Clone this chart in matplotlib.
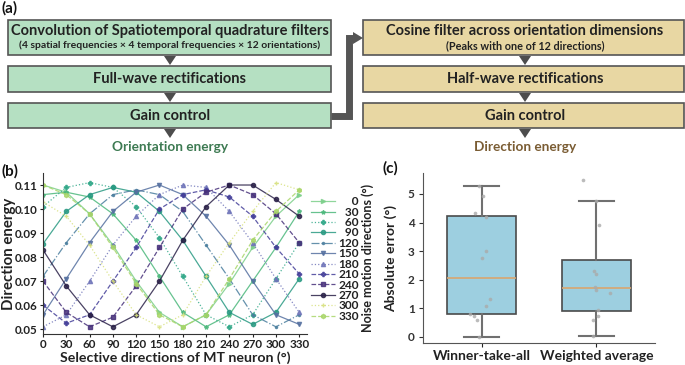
import numpy as np
import matplotlib
matplotlib.use("Agg")
import matplotlib.pyplot as plt
from matplotlib.patches import Rectangle, Polygon

plt.rcParams['font.family'] = ['Lato', 'DejaVu Sans']
plt.rcParams['font.weight'] = 'bold'

# ---------------- data ----------------
mt_dirs = [0, 30, 60, 90, 120, 150, 180, 210, 240, 270, 300, 330]
noise_dirs = [0, 30, 60, 90, 120, 150, 180, 210, 240, 270, 300, 330]
energy_0   = [0.110, 0.107, 0.098, 0.085, 0.070, 0.057, 0.051, 0.056, 0.069, 0.084, 0.097, 0.106]
energy_30  = [0.106, 0.107, 0.105, 0.098, 0.087, 0.072, 0.057, 0.051, 0.056, 0.070, 0.084, 0.099]
energy_60  = [0.101, 0.109, 0.111, 0.109, 0.101, 0.088, 0.072, 0.056, 0.051, 0.056, 0.071, 0.086]
energy_90  = [0.0855, 0.099, 0.106, 0.109, 0.107, 0.099, 0.087, 0.072, 0.057, 0.052, 0.057, 0.071]
energy_120 = [0.072, 0.086, 0.098, 0.106, 0.108, 0.106, 0.099, 0.085, 0.071, 0.056, 0.051, 0.056]
energy_150 = [0.056, 0.071, 0.086, 0.099, 0.107, 0.110, 0.106, 0.097, 0.085, 0.070, 0.056, 0.052]
energy_180 = [0.051, 0.056, 0.070, 0.085, 0.097, 0.106, 0.110, 0.109, 0.099, 0.086, 0.071, 0.057]
energy_210 = [0.060, 0.0525, 0.056, 0.070, 0.084, 0.100, 0.106, 0.108, 0.105, 0.097, 0.084, 0.073]
energy_240 = [0.070, 0.057, 0.051, 0.055, 0.068, 0.084, 0.100, 0.107, 0.110, 0.106, 0.098, 0.086]
energy_270 = [0.083, 0.068, 0.056, 0.051, 0.056, 0.070, 0.087, 0.101, 0.110, 0.110, 0.104, 0.097]
energy_300 = [0.103, 0.097, 0.085, 0.070, 0.056, 0.051, 0.056, 0.072, 0.086, 0.099, 0.111, 0.108]
energy_330 = [0.110, 0.106, 0.098, 0.084, 0.069, 0.056, 0.051, 0.056, 0.071, 0.087, 0.099, 0.108]
energies = [energy_0, energy_30, energy_60, energy_90, energy_120, energy_150,
            energy_180, energy_210, energy_240, energy_270, energy_300, energy_330]

methods = ['Winner-take-all', 'Weighted average']
err_wta = [5.28, 4.92, 4.33, 4.20, 3.00, 2.77, 1.32, 1.08, 0.82, 0.72, 0.60, 0.00]
err_wavg = [5.48, 4.75, 3.90, 2.30, 2.20, 1.75, 1.65, 1.52, 0.95, 0.75, 0.58, 0.05]

# jitter (layout only)
jit_wta = [-0.02, 0.01, -0.06, 0.04, 0.04, 0.00, 0.07, 0.04, -0.10, -0.07, -0.04, -0.02]
jit_wavg = [-0.12, 0.00, 0.02, -0.02, 0.00, -0.01, 0.00, 0.12, 0.01, 0.01, -0.03, -0.03]

# ---------------- figure ----------------
W, H = 685, 365
fig = plt.figure(figsize=(W / 100, H / 100), dpi=100)

# ---- panel (a): flow chart in pixel coordinates ----
axa = fig.add_axes([0, 0, 1, 1])
axa.set_xlim(0, W)
axa.set_ylim(H, 0)
axa.axis('off')

green_fc = '#b5e0c2'
tan_fc = '#e8d7a3'
edge = '#555555'
arrow_c = '#4d4d4d'

def box(x0, x1, y0, y1, fc):
    axa.add_patch(Rectangle((x0, y0), x1 - x0, y1 - y0, fc=fc, ec=edge, lw=1.2))

def tri(xc, ytop):
    axa.add_patch(Polygon([[xc - 6, ytop], [xc + 6, ytop], [xc, ytop + 9]],
                          closed=True, fc=arrow_c, ec='none'))

lx0, lx1 = 8, 331
rx0, rx1 = 363, 684
rows = [(20, 55), (66, 92), (103, 128)]
for y0, y1 in rows:
    box(lx0, lx1, y0, y1, green_fc)
    box(rx0, rx1, y0, y1, tan_fc)
lc, rc = 170, 525
for y1 in [55, 92, 128]:
    tri(lc, y1 + 1)
    tri(rc, y1 + 1)

tc = '#222222'
big = 10.5
axa.text(lc, 31, 'Convolution of Spatiotemporal quadrature filters', ha='center', va='center',
         fontsize=big, color=tc, fontweight='bold')
axa.text(lc, 45.5, '(4 spatial frequencies × 4 temporal frequencies × 12 orientations)', ha='center',
         va='center', fontsize=7.5, color=tc, fontweight='bold')
axa.text(lc, 79, 'Full-wave rectifications', ha='center', va='center', fontsize=big, color=tc,
         fontweight='bold')
axa.text(lc, 115.5, 'Gain control', ha='center', va='center', fontsize=big, color=tc, fontweight='bold')
axa.text(lc, 147, 'Orientation energy', ha='center', va='center', fontsize=9.8, color='#3d7a52',
         fontweight='bold')

axa.text(rc, 31, 'Cosine filter across orientation dimensions', ha='center', va='center',
         fontsize=big, color=tc, fontweight='bold')
axa.text(rc, 45.5, '(Peaks with one of 12 directions)', ha='center', va='center', fontsize=7.8,
         color=tc, fontweight='bold')
axa.text(rc, 79, 'Half-wave rectifications', ha='center', va='center', fontsize=big, color=tc,
         fontweight='bold')
axa.text(rc, 115.5, 'Gain control', ha='center', va='center', fontsize=big, color=tc, fontweight='bold')
axa.text(rc, 147, 'Direction energy', ha='center', va='center', fontsize=9.8, color='#7a5c33',
         fontweight='bold')

# connector
axa.plot([331, 349, 349, 354], [116, 116, 38, 38], color='#555555', lw=5, solid_joinstyle='miter',
         solid_capstyle='butt')
axa.add_patch(Polygon([[353, 32], [353, 44], [363, 38]], closed=True, fc='#555555', ec='none'))

axa.text(1, 8, '(a)', ha='left', va='center', fontsize=11, fontweight='bold', color='#111111')
axa.text(1, 171, '(b)', ha='left', va='center', fontsize=11, fontweight='bold', color='#111111')
axa.text(383, 168, '(c)', ha='left', va='center', fontsize=11, fontweight='bold', color='#111111')

# ---- panel (b) ----
def fig_rect(l, r, t, b):
    return [l / W, 1 - b / H, (r - l) / W, (b - t) / H]

axb = fig.add_axes(fig_rect(43, 307, 173, 334))
colors = {0: '#7ccf8a', 30: '#4cb87c', 60: '#2fa787', 90: '#2a9a83', 120: '#4a7e9e',
          150: '#5570a0', 180: '#6e73b8', 210: '#443f99', 240: '#46307a', 270: '#2a2148',
          300: '#d6e07a', 330: '#a9d66a'}
styles = {0: ('-', '>'), 30: ('-', '*'), 60: (':', 'P'), 90: ('-', 'o'), 120: ('-.', '.'),
          150: ('-', 'v'), 180: (':', '^'), 210: ('--', 'P'), 240: ('--', 's'), 270: ('-', 'o'),
          300: (':', '+'), 330: ('--', 'h')}
handles = []
for d, vals in zip(noise_dirs, energies):
    ls, mk = styles[d]
    ln, = axb.plot(mt_dirs, vals, ls=ls, marker=mk, ms=3.0, lw=0.9, color=colors[d],
                   alpha=0.85, label=str(d))
    handles.append(ln)
axb.set_xlim(0, 340)
axb.set_ylim(0.048, 0.115)
axb.set_xticks(mt_dirs)
axb.set_yticks([0.05, 0.06, 0.07, 0.08, 0.09, 0.10, 0.11])
axb.set_yticklabels(['0.05', '0.06', '0.07', '0.08', '0.09', '0.10', '0.11'])
for s in ['top', 'right']:
    axb.spines[s].set_visible(False)
for s in ['left', 'bottom']:
    axb.spines[s].set_color('#333333')
axb.tick_params(labelsize=8.4, length=2.5, pad=1.2, colors='#222222')
for t in axb.get_xticklabels() + axb.get_yticklabels():
    t.set_fontweight('bold')
axb.set_ylabel('Direction energy', fontsize=10.8, fontweight='bold', color='#222222')
axb.yaxis.set_label_coords(-0.102, 0.5)
axb.set_xlabel('Selective directions of MT neuron (°)', fontsize=10.2, fontweight='bold',
               color='#222222')
axb.xaxis.set_label_coords(0.5, -0.108)

labels = [f'{d:>3d}'.replace(' ', '\u2007') for d in noise_dirs]
leg = fig.legend(handles, labels, loc='center left', bbox_to_anchor=(311 / W, 1 - 259 / H),
                 frameon=False, fontsize=8.6, labelspacing=-0.05, handlelength=2.0,
                 handletextpad=0.3, borderpad=0, borderaxespad=0)
for t in leg.get_texts():
    t.set_fontweight('bold')
    t.set_color('#222222')
fig.text(368 / W, 1 - 258 / H, 'Noise motion directions (°)', rotation=90, ha='center', va='center',
         fontsize=9, fontweight='bold', color='#222222')

# ---- panel (c) ----
axc = fig.add_axes(fig_rect(423, 655, 173, 343))
bp = axc.boxplot([err_wta, err_wavg], positions=[0, 1], widths=0.6, patch_artist=True,
                 showfliers=False, whis=1.5,
                 boxprops=dict(facecolor='#9dcfe0', edgecolor='#4a4a4a', linewidth=1.2),
                 medianprops=dict(color='#d9a56e', linewidth=1.2),
                 whiskerprops=dict(color='#707070', linewidth=1.5),
                 capprops=dict(color='#707070', linewidth=1.5))
axc.scatter(np.array(jit_wta) + 0, err_wta, s=7, color='#aaaaaa', alpha=0.8, zorder=3, lw=0)
axc.scatter(np.array(jit_wavg) + 1, err_wavg, s=7, color='#aaaaaa', alpha=0.8, zorder=3, lw=0)
axc.set_xlim(-0.51, 1.51)
axc.set_ylim(-0.21, 5.73)
axc.set_xticks([0, 1])
axc.set_xticklabels(methods)
axc.set_yticks([0, 1, 2, 3, 4, 5])
for s in ['top', 'right']:
    axc.spines[s].set_visible(False)
for s in ['left', 'bottom']:
    axc.spines[s].set_color('#555555')
axc.tick_params(axis='y', labelsize=8.5, length=3, pad=3, colors='#333333')
axc.tick_params(axis='x', labelsize=10, length=3, pad=2, colors='#222222')
for t in axc.get_xticklabels() + axc.get_yticklabels():
    t.set_fontweight('bold')
axc.set_ylabel('Absolute error (°)', fontsize=10, fontweight='bold', labelpad=8, color='#222222')

fig.savefig('out.png', dpi=100)
